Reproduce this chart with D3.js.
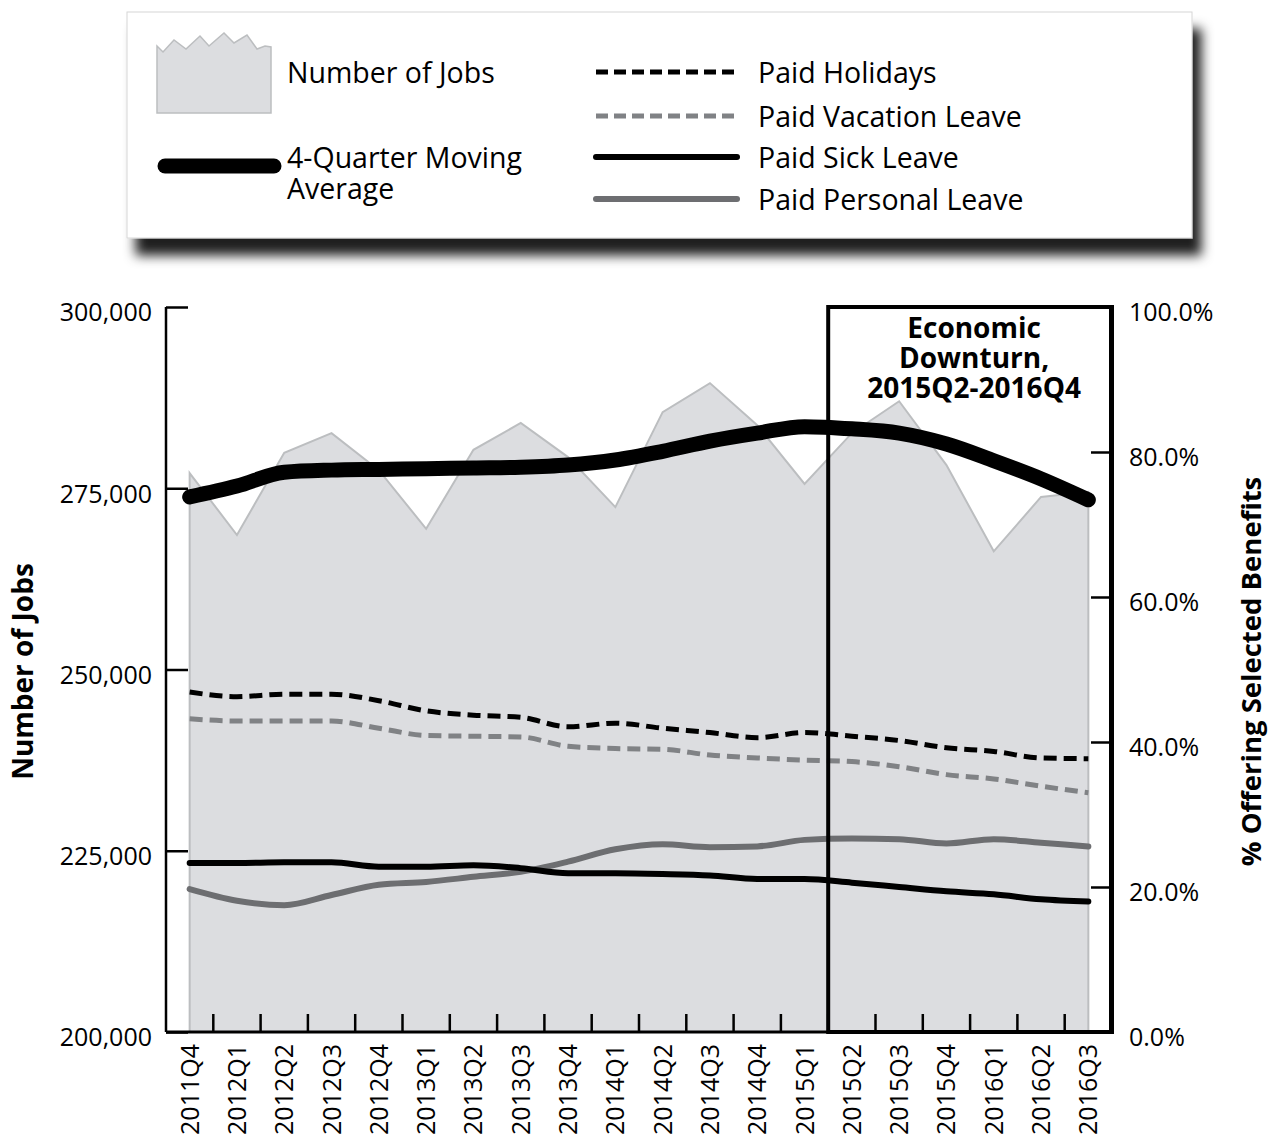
<!DOCTYPE html>
<html>
<head>
<meta charset="utf-8">
<script src="https://cdn.jsdelivr.net/npm/d3@7"></script>
<style>
  html, body { margin: 0; padding: 0; background: #fff; }
  svg { display: block; font-family: "Open Sans", "Noto Sans", sans-serif; }
</style>
</head>
<body>
<svg id="chart" width="1274" height="1147"></svg>
<script>
// ---------------- DATA ----------------
const categories = ["2011Q4","2012Q1","2012Q2","2012Q3","2012Q4","2013Q1","2013Q2","2013Q3","2013Q4",
  "2014Q1","2014Q2","2014Q3","2014Q4","2015Q1","2015Q2","2015Q3","2015Q4","2016Q1","2016Q2","2016Q3"];
const numberOfJobs = [277100, 268550, 279900, 282600, 277500, 269400, 280300, 284000, 279300, 272400,
  285500, 289500, 283700, 275600, 282600, 287000, 278200, 266300, 273800, 274500];
const movingAverage = [273800, 275300, 277200, 277500, 277600, 277700, 277800, 277900, 278200, 278900,
  280100, 281500, 282600, 283500, 283200, 282600, 281100, 278800, 276300, 273400];
const paidHolidays = [46.9, 46.25, 46.6, 46.6, 45.7, 44.3, 43.7, 43.4, 42.1, 42.6,
  41.9, 41.3, 40.6, 41.3, 40.8, 40.2, 39.2, 38.7, 37.8, 37.7];
const paidVacation = [43.2, 42.9, 42.9, 42.9, 41.9, 40.9, 40.8, 40.7, 39.4, 39.1,
  39.0, 38.2, 37.8, 37.5, 37.3, 36.6, 35.5, 34.9, 33.9, 33.0];
const paidSick = [23.3, 23.3, 23.4, 23.4, 22.8, 22.8, 23.0, 22.6, 21.9, 21.9,
  21.8, 21.6, 21.1, 21.1, 20.6, 20.0, 19.4, 19.0, 18.3, 18.0];
const paidPersonal = [19.7, 18.1, 17.5, 18.9, 20.3, 20.7, 21.4, 22.1, 23.5, 25.2,
  25.9, 25.5, 25.6, 26.5, 26.7, 26.6, 26.0, 26.6, 26.1, 25.6];
const leftTicks = [200000, 225000, 250000, 275000, 300000];
const rightTicks = [0, 20, 40, 60, 80, 100];
const downturnStart = "2015Q2";
const downturnLabel = ["Economic", "Downturn,", "2015Q2-2016Q4"];
const leftTitle = "Number of Jobs";
const rightTitle = "% Offering Selected Benefits";

// ---------------- LAYOUT ----------------
const svg = d3.select("#chart");
const X0 = 166, X1 = 1112, Y0 = 1032, Y1 = 307;
const x = d3.scaleBand().domain(categories).range([X0, X1]).padding(0);
const cx = c => x(c) + x.bandwidth() / 2;
const yL = d3.scaleLinear().domain([200000, 300000]).range([Y0, Y1]);
const yR = d3.scaleLinear().domain([0, 100]).range([Y0, Y1]);

const COL = {
  areaFill: "#dcdde0", areaStroke: "#bcbec0",
  black: "#000", vac: "#808285", pers: "#6d6e71"
};

// ---------------- LEGEND ----------------
const defs = svg.append("defs");
const f = defs.append("filter").attr("id", "shadow").attr("x", "-10%").attr("y", "-20%").attr("width", "130%").attr("height", "160%");
f.append("feDropShadow").attr("dx", 9).attr("dy", 17).attr("stdDeviation", 6)
  .attr("flood-color", "#000").attr("flood-opacity", 0.88);

const lg = svg.append("g");
lg.append("rect").attr("x", 127).attr("y", 12).attr("width", 1065).attr("height", 226)
  .attr("fill", "#fff").attr("stroke", "#d6d6d6").attr("stroke-width", 1).attr("filter", "url(#shadow)");

// area swatch (jagged top)
const sw = [[157,46],[163,52],[174,40],[186,49],[200,36],[209,46],[224,33],[234,43],[247,35],[257,49],[265,46],[271,47],[271,113],[157,113]];
lg.append("path").attr("d", d3.line()(sw) + "Z").attr("fill", COL.areaFill).attr("stroke", COL.areaStroke).attr("stroke-width", 1.5);
const LFS = 28.5;
lg.append("text").attr("x", 287).attr("y", 83).attr("font-size", LFS).text("Number of Jobs");

lg.append("line").attr("x1", 165).attr("x2", 274).attr("y1", 166).attr("y2", 166)
  .attr("stroke", "#000").attr("stroke-width", 15).attr("stroke-linecap", "round");
lg.append("text").attr("x", 287).attr("y", 168).attr("font-size", LFS).text("4-Quarter Moving");
lg.append("text").attr("x", 287).attr("y", 199).attr("font-size", LFS).text("Average");

const legendItems = [
  {label: "Paid Holidays", color: COL.black, dash: "12,6", y: 72, w: 5},
  {label: "Paid Vacation Leave", color: COL.vac, dash: "12,6", y: 116, w: 5},
  {label: "Paid Sick Leave", color: COL.black, dash: null, y: 157, w: 6},
  {label: "Paid Personal Leave", color: COL.pers, dash: null, y: 199, w: 6}
];
legendItems.forEach(d => {
  lg.append("line").attr("x1", 596).attr("x2", 737).attr("y1", d.y).attr("y2", d.y)
    .attr("stroke", d.color).attr("stroke-width", d.w)
    .attr("stroke-dasharray", d.dash).attr("stroke-linecap", d.dash ? "butt" : "round");
  lg.append("text").attr("x", 758).attr("y", d.y + 11).attr("font-size", LFS).text(d.label);
});

// ---------------- CHART ----------------
const g = svg.append("g");

// area
const area = d3.area().x((d, i) => cx(categories[i])).y0(yL(200000)).y1(d => yL(d));
g.append("path").datum(numberOfJobs).attr("d", area)
  .attr("fill", COL.areaFill).attr("stroke", COL.areaStroke).attr("stroke-width", 2).attr("stroke-linejoin", "miter");

// percentage lines
const pline = d3.line().x((d, i) => cx(categories[i])).y(d => yR(d)).curve(d3.curveMonotoneX);
const series = [
  {data: paidVacation, color: COL.vac, dash: "13,7", w: 5},
  {data: paidHolidays, color: COL.black, dash: "13,7", w: 5},
  {data: paidPersonal, color: COL.pers, dash: null, w: 6},
  {data: paidSick, color: COL.black, dash: null, w: 6}
];
series.forEach(s => {
  g.append("path").datum(s.data).attr("d", pline).attr("fill", "none")
    .attr("stroke", s.color).attr("stroke-width", s.w).attr("stroke-dasharray", s.dash)
    .attr("stroke-linecap", s.dash ? "butt" : "round").attr("stroke-linejoin", "round");
});

// moving average
const mline = d3.line().x((d, i) => cx(categories[i])).y(d => yL(d)).curve(d3.curveMonotoneX);
g.append("path").datum(movingAverage).attr("d", mline).attr("fill", "none")
  .attr("stroke", "#000").attr("stroke-width", 15).attr("stroke-linecap", "round").attr("stroke-linejoin", "round");

// downturn box
const bx = x(downturnStart);
g.append("rect").attr("x", bx).attr("y", yR(100)).attr("width", X1 - bx).attr("height", yR(0) - yR(100))
  .attr("fill", "none").attr("stroke", "#000").attr("stroke-width", 4);
const bt = g.append("text").attr("text-anchor", "middle").attr("font-weight", "bold").attr("font-size", 28);
downturnLabel.forEach((t, i) => {
  bt.append("tspan").attr("x", (bx + X1) / 2 + 4).attr("y", 338 + i * 30).text(t);
});

// left axis
const axL = g.append("g").attr("transform", `translate(${X0},0)`)
  .call(d3.axisLeft(yL).tickValues(leftTicks).tickSize(-22).tickPadding(14).tickFormat(d3.format(",")));
axL.select(".domain").attr("stroke-width", 2.5).attr("d", `M0,${Y1}V${Y0}`);
axL.selectAll(".tick line").attr("stroke-width", 2.5);
axL.selectAll("text").attr("font-size", 25).attr("fill", "#000").attr("font-family", "Open Sans").attr("dy", "0.55em");

// right axis
const axR = g.append("g").attr("transform", `translate(${X1 - 1},0)`)
  .call(d3.axisRight(yR).tickValues(rightTicks).tickSize(-20).tickPadding(18).tickFormat(d => d3.format(".1f")(d) + "%"));
axR.select(".domain").attr("stroke-width", 4).attr("d", `M0,${Y1}V${Y0}`);
axR.selectAll(".tick line").attr("stroke-width", 2.5);
axR.selectAll("text").attr("font-size", 25).attr("fill", "#000").attr("font-family", "Open Sans").attr("dy", "0.55em");

// bottom axis
const axB = g.append("g").attr("transform", `translate(0,${Y0})`)
  .call(d3.axisBottom(x).tickSize(0).tickPadding(0));
axB.select(".domain").attr("stroke-width", 3).attr("d", `M${X0},0H${X1}`);
axB.selectAll(".tick text")
  .attr("transform", "rotate(-90)").attr("x", -12).attr("y", 0).attr("dy", "0.36em")
  .attr("text-anchor", "end").attr("font-size", 25).attr("fill", "#000").attr("font-family", "Open Sans");
// tick marks at category boundaries
g.append("g").selectAll("line").data(categories.slice(1)).join("line")
  .attr("x1", d => x(d)).attr("x2", d => x(d)).attr("y1", Y0).attr("y2", Y0 - 18)
  .attr("stroke", "#000").attr("stroke-width", 2.5);

// axis titles
svg.append("text").attr("transform", `translate(33,${(Y0 + Y1) / 2 + 2}) rotate(-90)`)
  .attr("text-anchor", "middle").attr("font-weight", "bold").attr("font-size", 28).text(leftTitle);
svg.append("text").attr("transform", `translate(1261,${(Y0 + Y1) / 2 + 2}) rotate(-90)`)
  .attr("text-anchor", "middle").attr("font-weight", "bold").attr("font-size", 27.5).text(rightTitle);
</script>
</body>
</html>
